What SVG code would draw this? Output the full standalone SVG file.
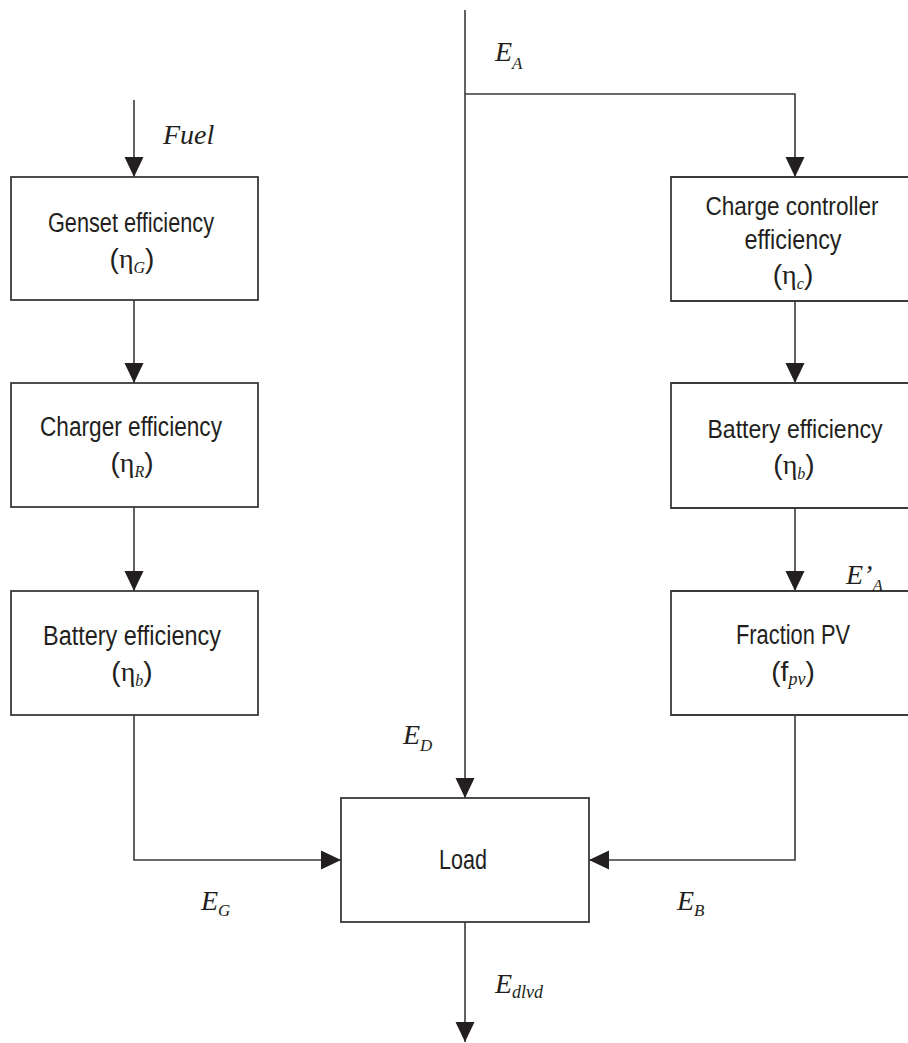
<svg xmlns="http://www.w3.org/2000/svg" width="908" height="1043" viewBox="0 0 908 1043">
<style>
.box{fill:#fff;stroke:#3a3a3a;stroke-width:1.8}
.ln{fill:none;stroke:#3a3a3a;stroke-width:1.6}
.t{font-family:"Liberation Sans",Arial,sans-serif;font-size:27px;fill:#231f20;text-anchor:middle}
.s{font-size:25px}
.p{font-size:28px}
.g{font-family:"Liberation Serif","Times New Roman",serif}
.i{font-family:"Liberation Serif","Times New Roman",serif;font-style:italic}
.lab{font-family:"Liberation Serif","Times New Roman",serif;font-style:italic;font-size:28px;fill:#231f20}
</style>
<defs>
<marker id="ah" markerUnits="userSpaceOnUse" markerWidth="20" markerHeight="20" viewBox="0 0 20 20" refX="20" refY="10" orient="auto">
<path d="M0,0.5 L20,10 L0,19.5 z" fill="#231f20"/>
</marker>
</defs>
<rect width="908" height="1043" fill="#fff"/>
<g id="connectors">
<line class="ln" x1="134" y1="100" x2="134" y2="177" marker-end="url(#ah)"/>
<line class="ln" x1="134" y1="300" x2="134" y2="383" marker-end="url(#ah)"/>
<line class="ln" x1="134" y1="507" x2="134" y2="591" marker-end="url(#ah)"/>
<polyline class="ln" points="134,715 134,860 341,860" marker-end="url(#ah)"/>
<line class="ln" x1="465" y1="10" x2="465" y2="798" marker-end="url(#ah)"/>
<polyline class="ln" points="465,94 795,94 795,177" marker-end="url(#ah)"/>
<line class="ln" x1="795" y1="301" x2="795" y2="383" marker-end="url(#ah)"/>
<line class="ln" x1="795" y1="508" x2="795" y2="591" marker-end="url(#ah)"/>
<polyline class="ln" points="795,715 795,860 589,860" marker-end="url(#ah)"/>
<line class="ln" x1="465" y1="922" x2="465" y2="1042" marker-end="url(#ah)"/>
</g>
<g id="genset">
<rect class="box" x="11" y="177" width="247" height="123"/>
<text class="t" x="131" y="232" textLength="166" lengthAdjust="spacingAndGlyphs">Genset efficiency</text>
<text class="t p" x="132" y="268">(<tspan class="g">η</tspan><tspan class="i" font-size="16" dy="5">G</tspan><tspan dy="-5">)</tspan></text>
</g>
<g id="charger">
<rect class="box" x="11" y="383" width="247" height="124"/>
<text class="t" x="131" y="436" textLength="182" lengthAdjust="spacingAndGlyphs">Charger efficiency</text>
<text class="t p" x="132" y="472">(<tspan class="g">η</tspan><tspan class="i" font-size="16" dy="5">R</tspan><tspan dy="-5">)</tspan></text>
</g>
<g id="battery-left">
<rect class="box" x="11" y="591" width="247" height="124"/>
<text class="t" x="132" y="645" textLength="178" lengthAdjust="spacingAndGlyphs">Battery efficiency</text>
<text class="t p" x="132" y="681">(<tspan class="g">η</tspan><tspan class="i" font-size="16" dy="5">b</tspan><tspan dy="-5">)</tspan></text>
</g>
<g id="charge-controller">
<path class="box" d="M908,177 H671 V301 H908"/>
<text class="t s" x="792" y="215" textLength="173" lengthAdjust="spacingAndGlyphs">Charge controller</text>
<text class="t" x="793" y="249" textLength="97" lengthAdjust="spacingAndGlyphs">efficiency</text>
<text class="t p" x="793" y="284">(<tspan class="g">η</tspan><tspan class="i" font-size="16" dy="5">c</tspan><tspan dy="-5">)</tspan></text>
</g>
<g id="battery-right">
<path class="box" d="M908,383 H671 V508 H908"/>
<text class="t s" x="795" y="438" textLength="175" lengthAdjust="spacingAndGlyphs">Battery efficiency</text>
<text class="t p" x="794" y="474">(<tspan class="g">η</tspan><tspan class="i" font-size="16" dy="5">b</tspan><tspan dy="-5">)</tspan></text>
</g>
<g id="fraction-pv">
<path class="box" d="M908,591 H671 V715 H908"/>
<text class="t" x="793" y="644" textLength="114" lengthAdjust="spacingAndGlyphs">Fraction PV</text>
<text class="t p" x="793" y="681">(f<tspan class="i" font-size="18" dy="4">pv</tspan><tspan dy="-4">)</tspan></text>
</g>
<g id="load">
<rect class="box" x="341" y="798" width="248" height="124"/>
<text class="t" x="463" y="869" textLength="48" lengthAdjust="spacingAndGlyphs">Load</text>
</g>
<g id="labels">
<text class="lab" x="163" y="144" font-size="27">Fuel</text>
<text class="lab" x="495" y="61">E<tspan font-size="17" dy="8">A</tspan></text>
<text class="lab" x="846" y="584">E’<tspan font-size="17" dy="7">A</tspan></text>
<text class="lab" x="403" y="744">E<tspan font-size="17" dy="7">D</tspan></text>
<text class="lab" x="201" y="910">E<tspan font-size="17" dy="6">G</tspan></text>
<text class="lab" x="677" y="910">E<tspan font-size="17" dy="6">B</tspan></text>
<text class="lab" x="495" y="993">E<tspan font-size="18" dy="5">dlvd</tspan></text>
</g>
</svg>
